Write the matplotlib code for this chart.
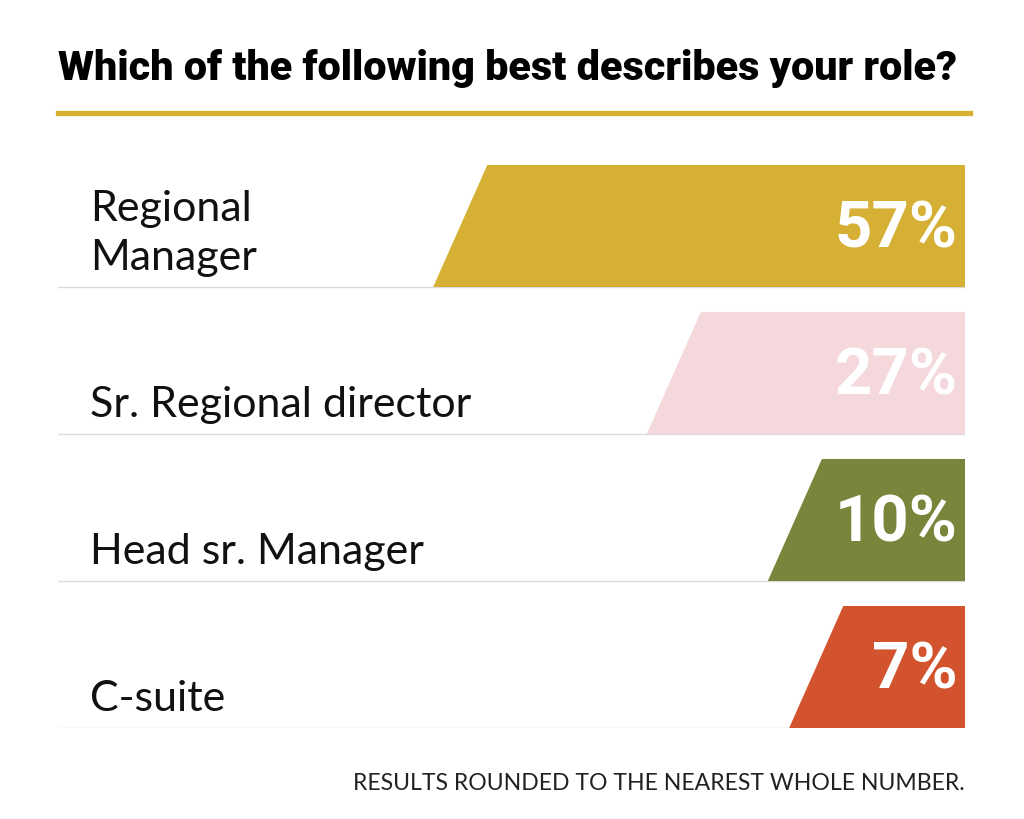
import matplotlib.pyplot as plt
from matplotlib.patches import Polygon
from matplotlib.lines import Line2D

roles = ["Regional\nManager", "Sr. Regional director", "Head sr. Manager", "C-suite"]
shares = [57, 27, 10, 7]
colors = ["#d5b034", "#f4d8db", "#7a853b", "#d2532e"]

title = "Which of the following best describes your role?"
note = "RESULTS ROUNDED TO THE NEAREST WHOLE NUMBER."

W, H = 1024, 819
fig = plt.figure(figsize=(W/100, H/100), dpi=100)
fig.patch.set_facecolor("white")

# bars area: rows of equal height, bars hang from the right edge
ax = fig.add_axes([58/W, 1-728/H, 907/W, 588/H])
xmax = 127.4
pad = 17.7      # extra width so small bars still hold their label
slant = 7.6     # horizontal run of the slanted left edge
h = 0.83        # bar height as share of row
ax.set_xlim(0, xmax)
ax.set_ylim(len(roles), 0)
ax.axis("off")

for i, (lab, v, c) in enumerate(zip(roles, shares, colors)):
    bot = i + 1
    top = bot - h
    lb = xmax - pad - v
    ax.add_patch(Polygon([(lb, bot), (lb+slant, top), (xmax, top), (xmax, bot)],
                         closed=True, fc=c, ec="none", zorder=2))
    ax.plot([0, xmax], [bot, bot], color="#dcdcdc", lw=1, zorder=1)
    ax.text(xmax-1, bot-h/2+0.03, f"{v}%", ha="right", va="center",
            color="white", fontsize=47, fontweight="bold",
            family=["Roboto", "DejaVu Sans"], zorder=3)
    ax.text(4.5, bot-0.115, lab, ha="left", va="baseline", color="#111111",
            fontsize=31, family=["Lato", "DejaVu Sans"], linespacing=1.35)

fig.text(58/W, 1-80/H, title, ha="left", va="baseline", fontsize=29.8,
         fontweight="black", family=["Roboto", "DejaVu Sans"], color="black")
fig.add_artist(Line2D([58/W, 970/W], [1-112.5/H, 1-112.5/H], color="#d5b034", lw=3.8))
fig.text(965/W, 1-790/H, note, ha="right", va="baseline", fontsize=16.6,
         family=["Lato", "DejaVu Sans"], color="#222222")

fig.savefig("out.png", dpi=100, facecolor="white")
